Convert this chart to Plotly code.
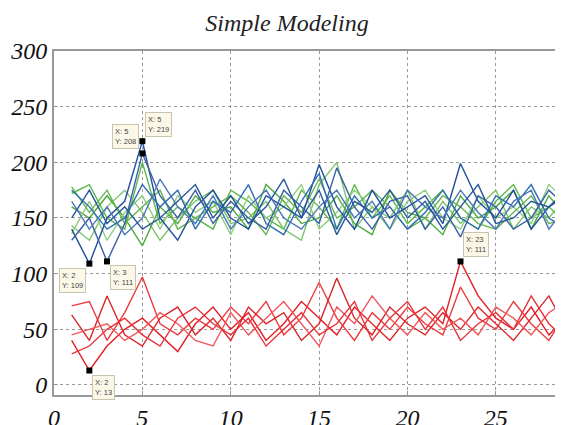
import plotly.graph_objects as go

x_vals = list(range(1, 31))

blue_lines = [
    [140, 109, 150, 165, 219, 150, 130, 160, 175, 150, 140, 170, 160, 150, 198, 160, 140, 175, 150, 160, 170, 145, 199, 165, 150, 175, 140, 160, 170, 150],
    [175, 160, 140, 150, 180, 160, 175, 140, 165, 155, 180, 145, 135, 165, 190, 140, 170, 150, 160, 140, 155, 175, 150, 140, 170, 160, 180, 150, 140, 165],
    [130, 150, 111, 145, 208, 170, 150, 175, 145, 165, 150, 140, 175, 160, 145, 195, 160, 140, 165, 170, 140, 160, 133, 170, 160, 140, 150, 175, 160, 145],
    [165, 140, 160, 135, 150, 185, 160, 145, 170, 140, 160, 175, 150, 140, 160, 175, 150, 165, 140, 175, 160, 150, 175, 155, 140, 165, 175, 140, 160, 170],
    [150, 175, 145, 160, 140, 150, 165, 180, 150, 170, 145, 160, 185, 150, 175, 135, 165, 155, 175, 150, 165, 140, 160, 180, 145, 150, 165, 160, 175, 150],
]
green_lines = [
    [172, 180, 150, 140, 200, 145, 160, 150, 140, 175, 165, 150, 140, 175, 160, 140, 180, 150, 170, 145, 160, 175, 150, 140, 165, 180, 150, 160, 145, 170],
    [143, 130, 160, 175, 155, 130, 150, 165, 175, 145, 150, 165, 140, 130, 180, 200, 140, 160, 150, 175, 140, 165, 145, 160, 175, 140, 160, 150, 170, 140],
    [160, 150, 170, 150, 125, 160, 145, 170, 155, 160, 140, 180, 165, 145, 150, 170, 145, 135, 175, 155, 150, 135, 170, 150, 160, 175, 140, 170, 150, 160],
    [136, 165, 130, 155, 170, 140, 170, 155, 165, 135, 170, 150, 160, 180, 140, 155, 175, 160, 140, 165, 175, 150, 140, 170, 150, 160, 145, 180, 165, 140],
    [178, 155, 175, 145, 160, 175, 140, 150, 160, 170, 155, 135, 170, 155, 185, 150, 160, 175, 160, 140, 150, 170, 160, 145, 140, 155, 170, 145, 150, 175],
]
red_lines = [
    [40, 13, 35, 50, 60, 45, 30, 55, 70, 50, 65, 40, 55, 75, 60, 45, 70, 55, 40, 60, 70, 55, 111, 80, 60, 50, 70, 45, 60, 55],
    [71, 75, 40, 65, 97, 55, 45, 60, 50, 70, 55, 75, 45, 60, 92, 60, 40, 65, 50, 70, 55, 45, 88, 60, 50, 75, 55, 40, 65, 50],
    [63, 40, 80, 45, 35, 60, 70, 45, 60, 40, 70, 55, 65, 40, 55, 96, 60, 45, 70, 55, 45, 65, 50, 70, 55, 40, 60, 80, 50, 65],
    [45, 50, 55, 40, 50, 65, 55, 40, 35, 65, 45, 60, 75, 55, 35, 70, 55, 80, 60, 45, 65, 50, 60, 45, 70, 60, 45, 65, 75, 45],
    [28, 35, 50, 60, 45, 35, 60, 70, 55, 45, 60, 35, 50, 65, 45, 55, 75, 40, 60, 75, 50, 70, 40, 55, 65, 50, 80, 55, 40, 70],
]

blue_colors = ["#1f4e9c", "#2f6db5", "#3a5fa8", "#4a78b8", "#27579b"]
green_colors = ["#5cb848", "#7cc46a", "#4daa3f", "#8fcf7e", "#66b552"]
red_colors = ["#e31e24", "#ee3a3e", "#d9262b", "#f0595c", "#e8333a"]

# data tips
tip_x = [2, 3, 5, 5, 2, 23]
tip_y = [109, 111, 208, 219, 13, 111]
tip_side = [("right", "top"), ("left", "top"), ("right", "bottom"), ("left", "bottom"), ("left", "top"), ("left", "bottom")]

fig = go.Figure()

for lines, colors in ((green_lines, green_colors), (blue_lines, blue_colors), (red_lines, red_colors)):
    for ys, c in zip(lines, colors):
        fig.add_trace(go.Scatter(x=x_vals, y=ys, mode="lines",
                                 line=dict(color=c, width=1.4), showlegend=False,
                                 hoverinfo="skip"))

fig.add_trace(go.Scatter(x=tip_x, y=tip_y, mode="markers",
                         marker=dict(symbol="square", size=6, color="black"),
                         showlegend=False, hoverinfo="skip"))

for tx, ty, (xa, ya) in zip(tip_x, tip_y, tip_side):
    fig.add_annotation(x=tx, y=ty, xref="x", yref="y", showarrow=False,
                       text=f"X: {tx}<br>Y: {ty}", align="left",
                       xanchor=xa, yanchor=ya,
                       xshift=-3 if xa == "right" else 3,
                       yshift=-4 if ya == "top" else 4,
                       font=dict(family="Arial", size=7.5, color="#444"),
                       bgcolor="#fbf8e8", bordercolor="#c8c4b0", borderwidth=1, borderpad=2)

tick_font = dict(family="Liberation Serif", size=24, color="#111", style="italic")

# page body has an 8px margin; figure sized to fill the rest of the 563x425 window
W, H, OFF = 555, 417, 8

fig.update_layout(
    width=W, height=H,
    margin=dict(l=46, r=0, t=43, b=30),
    paper_bgcolor="white", plot_bgcolor="white",
    title=dict(text="Simple Modeling", x=(287 - OFF) / W, xanchor="center", xref="container",
               y=1 - (23 - OFF) / H, yanchor="middle", yref="container",
               font=dict(family="Liberation Serif", size=24, color="#222", style="italic")),
    xaxis=dict(range=[0, 28.8], tickvals=[0, 5, 10, 15, 20, 25], automargin=False,
               showgrid=True, gridcolor="#999", griddash="dot", gridwidth=1,
               zeroline=False, showline=True, linecolor="#999", linewidth=2, mirror=True,
               ticks="inside", ticklen=4, tickcolor="#999",
               tickfont=tick_font),
    yaxis=dict(range=[-9, 300], tickvals=[0, 50, 100, 150, 200, 250, 300], automargin=False,
               showgrid=True, gridcolor="#999", griddash="dot", gridwidth=1,
               zeroline=False, showline=True, linecolor="#999", linewidth=2, mirror=False,
               ticks="inside", ticklen=4, tickcolor="#999", ticklabelstandoff=0,
               tickfont=tick_font),
)

fig.write_html("out.html")
